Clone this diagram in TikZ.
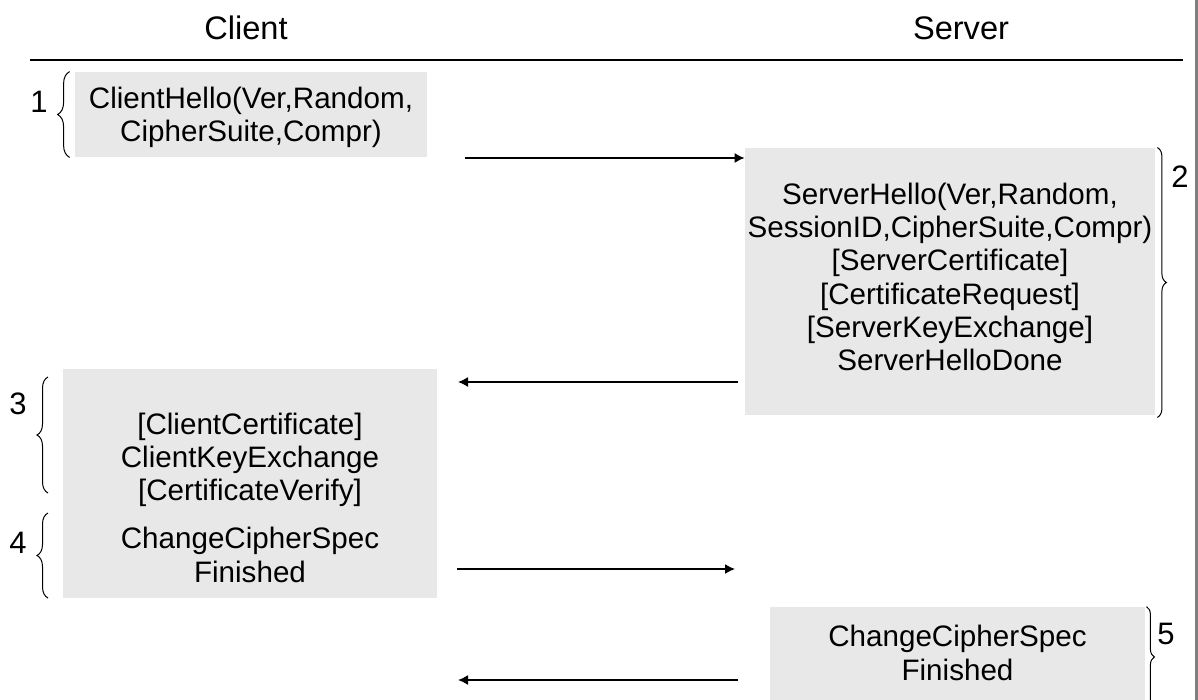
\documentclass[tikz,border=0pt]{standalone}
\usepackage{fontspec}
\setmainfont{Liberation Sans}
\usetikzlibrary{positioning, arrows.meta, decorations.pathreplacing}
\definecolor{msgfill}{RGB}{232,232,232}

\begin{document}
\begin{tikzpicture}[x=0.5pt, y=-0.5pt, >={Latex[length=5pt,width=5pt]},
        font=\fontsize{14.8}{16.6}\selectfont,
        msgbox/.style={fill=msgfill, inner sep=0pt},
        msgtext/.style={align=center, inner sep=0pt},
        msgarrow/.style={->, line width=0.75pt},
        party/.style={font=\fontsize{16.3}{18}\selectfont},
        stepno/.style={font=\fontsize{15.5}{17}\selectfont},
        grp/.style={decorate, decoration={brace, amplitude=#1}, line width=0.5pt},
        grp/.default=5pt]
        \useasboundingbox (0,0) rectangle (1198,700);

        % Headers
        \node[party] (client) at (246,28) {Client};
        \node[party] (server) at (961,28) {Server};
        \coordinate (rulel) at (30,60);
        \coordinate (ruler) at (1183,60);
        \draw[line width=0.6pt] (rulel) -- (ruler);
        \coordinate (edget) at (1196,0);
        \coordinate (edgeb) at (1196,700);
        \draw[gray, line width=1.5pt] (edget) -- (edgeb);

        % Message boxes
        \node[msgbox, minimum width=176pt, minimum height=42.5pt] (cbox1) at (251,114.5) {};
        \node[msgbox, minimum width=205pt, minimum height=133.5pt] (sbox2) at (950,281.5) {};
        \node[msgbox, minimum width=187pt, minimum height=114.5pt] (cbox3) at (250,483.5) {};
        \node[msgbox, minimum width=187.5pt, minimum height=50pt] (sbox5) at (957.5,657) {};

        % Message texts
        \node[msgtext] (hello) at (251,117) {ClientHello(Ver,Random,\\CipherSuite,Compr)};
        \node[msgtext] (shello) at (950,277) {ServerHello(Ver,Random,\\SessionID,CipherSuite,Compr)\\{}[ServerCertificate]\\{}[CertificateRequest]\\{}[ServerKeyExchange]\\ServerHelloDone};
        \node[msgtext] (ckey) at (250,460) {[ClientCertificate]\\ClientKeyExchange\\{}[CertificateVerify]};
        \node[msgtext] (cfin) at (250,555) {ChangeCipherSpec\\Finished};
        \node[msgtext] (sfin) at (957.5,653) {ChangeCipherSpec\\Finished};

        % Arrows
        \coordinate (a1) at (465,158);
        \coordinate (a2) at (738,382);
        \coordinate (b2) at (458,382);
        \coordinate (a3) at (457,569);
        \coordinate (b3) at (735,569);
        \coordinate (a4) at (738,680);
        \coordinate (b4) at (458,680);
        \draw[msgarrow] (a1) -- (sbox2.west |- a1);
        \draw[msgarrow] (a2) -- (b2);
        \draw[msgarrow] (a3) -- (b3);
        \draw[msgarrow] (a4) -- (b4);

        % Braces and step numbers
        \draw[grp=6pt] ([xshift=-2.5pt]cbox1.south west) -- ([xshift=-2.5pt]cbox1.north west);
        \draw[grp=4.5pt] ([xshift=1pt]sbox2.north east) -- ([xshift=1pt,yshift=-1pt]sbox2.south east);
        \draw[grp=5.5pt] (48,493) -- (48,377);
        \draw[grp=5.5pt] (48,598) -- (48,513);
        \draw[grp=4pt] ([xshift=0.5pt]sbox5.north east) -- ([xshift=0.5pt]sbox5.south east);
        \node[stepno] (n1) at (39,102) {1};
        \node[stepno] (n2) at (1180,177) {2};
        \node[stepno] (n3) at (18,404) {3};
        \node[stepno] (n4) at (18,543) {4};
        \node[stepno] (n5) at (1166,634) {5};
\end{tikzpicture}
\end{document}
